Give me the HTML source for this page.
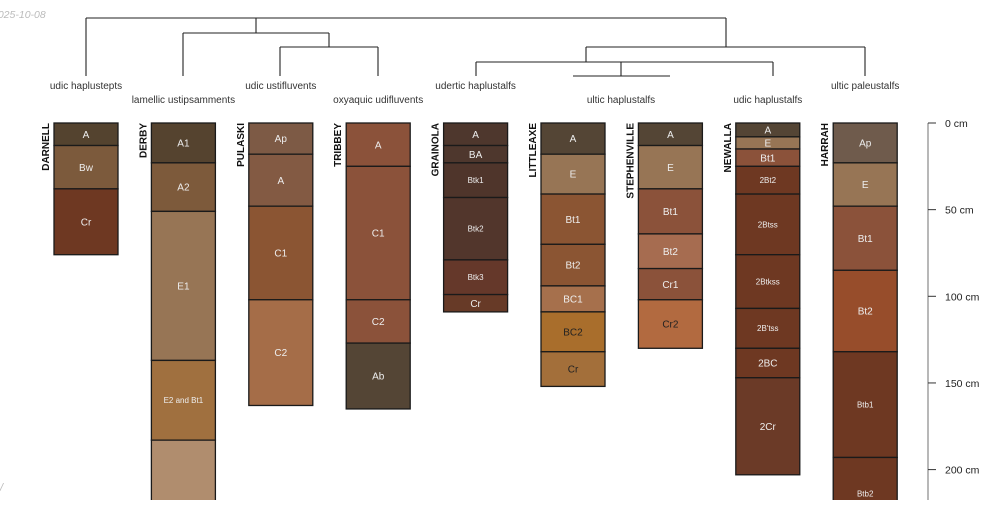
<!DOCTYPE html>
<html><head><meta charset="utf-8"><style>
body{margin:0;background:#fff;width:1000px;height:500px;overflow:hidden}
svg{font-family:"Liberation Sans",sans-serif}
</style></head><body>
<svg id="c" width="1000" height="500">
<text x="-8" y="18" font-size="10.5" font-style="italic" fill="#bbb">2025-10-08</text>
<text x="0" y="491" font-size="11" font-style="italic" fill="#bbb">/</text>
</svg>
<script>
const profileNames=["DARNELL","DERBY","PULASKI","TRIBBEY","GRAINOLA","LITTLEAXE","STEPHENVILLE","NEWALLA","HARRAH"];
const taxa=["udic haplustepts","lamellic ustipsamments","udic ustifluvents","oxyaquic udifluvents","udertic haplustalfs","ultic haplustalfs","","udic haplustalfs","ultic paleustalfs"];
const hzNames=[["A","Bw","Cr"],["A1","A2","E1","E2 and Bt1",""],["Ap","A","C1","C2"],["A","C1","C2","Ab"],["A","BA","Btk1","Btk2","Btk3","Cr"],["A","E","Bt1","Bt2","BC1","BC2","Cr"],["A","E","Bt1","Bt2","Cr1","Cr2"],["A","E","Bt1","2Bt2","2Btss","2Btkss","2B'tss","2BC","2Cr"],["Ap","E","Bt1","Bt2","Btb1","Btb2"]];
const hzBottoms=[[13,38,76],[23,51,137,183,230],[18,48,102,163],[25,102,127,165],[13,23,43,79,99,109],[18,41,70,94,109,132,152],[13,38,64,84,102,130],[8,15,25,41,76,107,130,147,203],[23,48,85,132,193,235]];
const hzColors=[["#54432f","#7c5a3c","#6e3822"],["#55432f","#7d5a3b","#977555","#a0703f","#b08d6e"],["#7d5a45","#835a43","#8b5533","#a56d48"],["#8b523a","#8b523a","#8b523a","#544535"],["#4e372d","#4e372d","#4f352b","#52362c","#65382a","#673a27"],["#544535","#977555","#8b5533","#8b5533","#a6704c","#a96e2c","#a36f3a"],["#544535","#977555","#8b523a","#a66c50","#8b523a","#b26a40"],["#544535","#977555","#8b523a","#6e3822","#6e3822","#6e3822","#6e3822","#6e3822","#6b3a27"],["#6f5b4c","#977555","#8b523a","#974d2b","#6e3822","#6e3822"]];
const darkText=["BC2","Cr2"];
const depthTicks=[0,50,100,150,200];
const NS="http://www.w3.org/2000/svg";
const svg=document.getElementById('c');
const x0=54, dx=97.4, w=64, y0=123, k=1.733;
const xs=i=>x0+i*dx, ys=d=>y0+d*k;
function el(t,a,p){const e=document.createElementNS(NS,t);for(const q in a)e.setAttribute(q,a[q]);(p||svg).appendChild(e);return e;}
const segs=[[86,18,726,18],[86,18,86,76],[256,18,256,33],[183,33,329,33],[183,33,183,76],[329,33,329,47],[280,47,378,47],[280,47,280,76],[378,47,378,76],[726,18,726,47],[586,47,865,47],[865,47,865,76],[586,47,586,62],[476,62,773,62],[476,62,476,76],[773,62,773,76],[621,62,621,76],[573,76,670,76]];
const dg=el('g',{stroke:'#222','stroke-width':1.1,fill:'none'});


segs.forEach(s=>el('line',{x1:s[0],y1:s[1],x2:s[2],y2:s[3]},dg));
taxa.forEach((t,i)=>{if(!t)return;let cx=xs(i)+w/2;if(i===5)cx=621;
 const tx=el('text',{x:cx,y:i%2?103:89,'font-size':10,'text-anchor':'middle',fill:'#333'});tx.textContent=t;
 
 });
profileNames.forEach((n,i)=>{
 const g=el('g',{});
 
 
 const x=xs(i);
 const nt=el('text',{x:0,y:0,'font-size':10,'font-weight':'bold','text-anchor':'end',fill:'#111',transform:`translate(${x-5},${y0}) rotate(-90)`},g);nt.textContent=n;
 
 
 let top=0;
 hzNames[i].forEach((h,j)=>{const b=hzBottoms[i][j];
  const r=el('rect',{x:x,y:ys(top),width:w,height:ys(b)-ys(top),fill:hzColors[i][j],stroke:'#1a1a1a','stroke-width':1.3},g);
  
  
  if(h){const fs=h.length>3?8:10;const t=el('text',{x:x+w/2,y:(ys(top)+ys(b))/2+fs*0.36,'font-size':fs,'text-anchor':'middle',fill:darkText.includes(h)||(n==="LITTLEAXE"&&h==="Cr")?'#222':'#eee'},g);t.textContent=h;
  
  }
  top=b;});
});
const ax=el('g',{});


el('line',{x1:928,y1:y0,x2:928,y2:500,stroke:'#888','stroke-width':1.2},ax);
depthTicks.forEach(d=>{el('line',{x1:928,y1:ys(d),x2:936,y2:ys(d),stroke:'#333','stroke-width':1},ax);
 const t=el('text',{x:945,y:ys(d)+4,'font-size':10.5,fill:'#222'},ax);t.textContent=d+' cm';
 
 });
</script>
</body></html>
